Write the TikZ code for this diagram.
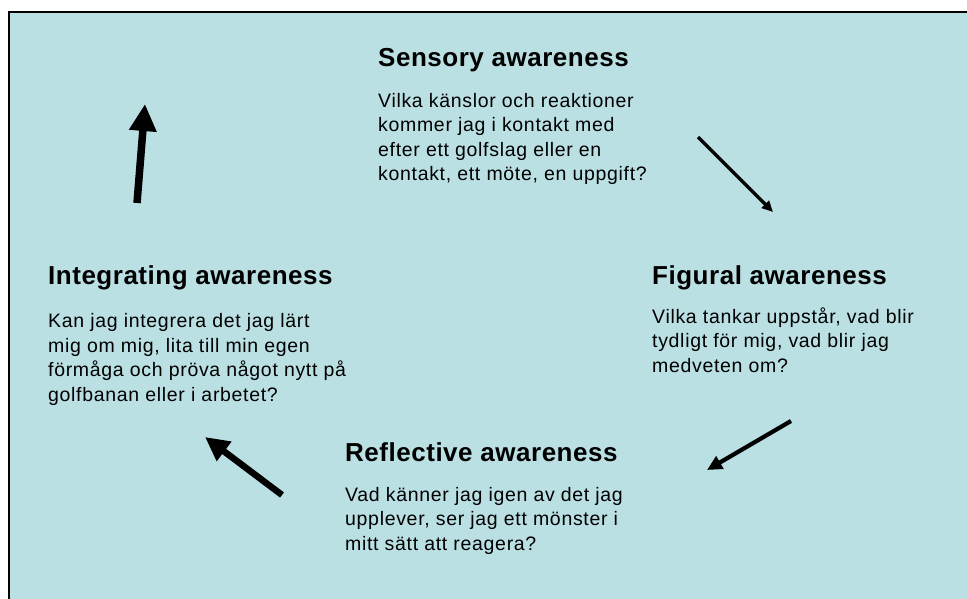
\documentclass[tikz,border=0pt]{standalone}
\usepackage{fontspec}
\setmainfont{Liberation Sans}[LetterSpace=3.5]
\newfontfamily\headingfont{Liberation Sans}[LetterSpace=2]
\usepackage{xcolor}
\usetikzlibrary{arrows.meta}
\definecolor{panelblue}{RGB}{186,224,228}

\begin{document}
\begin{tikzpicture}[
    x=1pt, y=-1pt,
    heading/.style={anchor=base west, inner sep=0pt, font=\headingfont\fontsize{26}{30}\selectfont\bfseries},
    body/.style={anchor=base west, inner sep=0pt, align=left, font=\fontsize{19.5}{24.5}\selectfont},
    flow/.style={line width=#1, line cap=butt}
]
    \useasboundingbox (0,0) rectangle (967,599);

    % Panel
    \draw[fill=panelblue, line width=2.5pt] (9,12) rectangle (980,615);

    % Sensory awareness (body placed by its last baseline)
    \node[heading] (senshead) at (378,67) {Sensory awareness};
    \node[body] (sensbody) at (378,181) {Vilka känslor och reaktioner\\kommer jag i kontakt med\\efter ett golfslag eller en\\kontakt, ett möte, en uppgift?};

    % Figural awareness
    \node[heading] (fighead) at (652,284) {Figural awareness};
    \node[body] (figbody) at (652,372) {Vilka tankar uppstår, vad blir\\tydligt för mig, vad blir jag\\medveten om?};

    % Reflective awareness
    \node[heading] (refhead) at (345,461) {Reflective awareness};
    \node[body] (refbody) at (345,550) {Vad känner jag igen av det jag\\upplever, ser jag ett mönster i\\mitt sätt att reagera?};

    % Integrating awareness
    \node[heading] (inthead) at (48,284) {Integrating awareness};
    \node[body] (intbody) at (48,401) {Kan jag integrera det jag lärt\\mig om mig, lita till min egen\\förmåga och pröva något nytt på\\golfbanan eller i arbetet?};

    % Arrows between the stages
    \coordinate (s1) at (698,137);
    \coordinate (s2) at (773,212);
    \coordinate (f1) at (791,421);
    \coordinate (f2) at (707,470);
    \coordinate (r1) at (282,495);
    \coordinate (r2) at (205,437);
    \coordinate (i1) at (137,203);
    \coordinate (i2) at (145,104);

    \draw[flow=3.3pt, -{Triangle[length=11pt,width=10pt]}] (s1) -- (s2);
    \draw[flow=4.2pt, -{Triangle[length=15pt,width=14pt]}] (f1) -- (f2);
    \draw[flow=6.5pt, -{Triangle[length=24pt,width=23pt]}] (r1) -- (r2);
    \draw[flow=7.5pt, -{Triangle[length=27pt,width=26pt]}] (i1) -- (i2);
\end{tikzpicture}
\end{document}
